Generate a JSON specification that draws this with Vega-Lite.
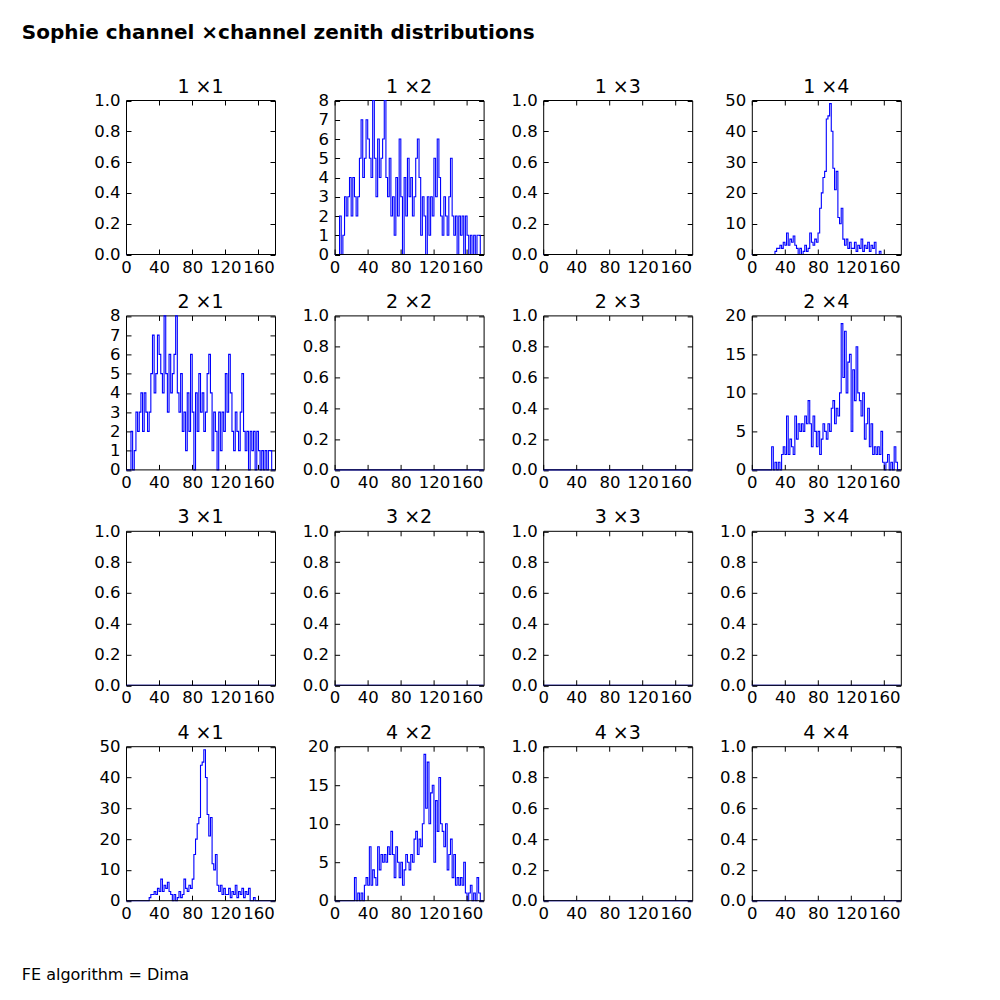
{
"$schema": "https://vega.github.io/schema/vega-lite/v6.json",
"padding": {"left": 21, "top": 22, "right": 20, "bottom": 20},
"datasets": {
"z": [{"x":0,"n":0},{"x":180,"n":0}],
"a": [{"x":0,"n":0},{"x":2,"n":0},{"x":4,"n":0},{"x":6,"n":2},{"x":8,"n":0},{"x":10,"n":1},{"x":12,"n":3},{"x":14,"n":2},{"x":16,"n":3},{"x":18,"n":4},{"x":20,"n":2},{"x":22,"n":4},{"x":24,"n":3},{"x":26,"n":2},{"x":28,"n":3},{"x":30,"n":5},{"x":32,"n":7},{"x":34,"n":4},{"x":36,"n":5},{"x":38,"n":7},{"x":40,"n":6},{"x":42,"n":5},{"x":44,"n":4},{"x":46,"n":8},{"x":48,"n":5},{"x":50,"n":3},{"x":52,"n":6},{"x":54,"n":4},{"x":56,"n":5},{"x":58,"n":6},{"x":60,"n":8},{"x":62,"n":4},{"x":64,"n":3},{"x":66,"n":5},{"x":68,"n":2},{"x":70,"n":3},{"x":72,"n":1},{"x":74,"n":4},{"x":76,"n":2},{"x":78,"n":6},{"x":80,"n":3},{"x":82,"n":0},{"x":84,"n":4},{"x":86,"n":2},{"x":88,"n":5},{"x":90,"n":3},{"x":92,"n":4},{"x":94,"n":2},{"x":96,"n":3},{"x":98,"n":5},{"x":100,"n":6},{"x":102,"n":4},{"x":104,"n":1},{"x":106,"n":3},{"x":108,"n":2},{"x":110,"n":0},{"x":112,"n":3},{"x":114,"n":1},{"x":116,"n":3},{"x":118,"n":2},{"x":120,"n":5},{"x":122,"n":3},{"x":124,"n":6},{"x":126,"n":4},{"x":128,"n":2},{"x":130,"n":1},{"x":132,"n":3},{"x":134,"n":2},{"x":136,"n":1},{"x":138,"n":3},{"x":140,"n":5},{"x":142,"n":2},{"x":144,"n":1},{"x":146,"n":2},{"x":148,"n":0},{"x":150,"n":2},{"x":152,"n":1},{"x":154,"n":2},{"x":156,"n":0},{"x":158,"n":2},{"x":160,"n":1},{"x":162,"n":0},{"x":164,"n":1},{"x":166,"n":0},{"x":168,"n":1},{"x":170,"n":0},{"x":172,"n":1},{"x":174,"n":1},{"x":176,"n":0},{"x":178,"n":0},{"x":180,"n":0}],
"b": [{"x":0,"n":0},{"x":24,"n":0},{"x":26,"n":0},{"x":28,"n":1},{"x":30,"n":2},{"x":32,"n":2},{"x":34,"n":3},{"x":36,"n":2},{"x":38,"n":4},{"x":40,"n":3},{"x":42,"n":7},{"x":44,"n":3},{"x":46,"n":5},{"x":48,"n":4},{"x":50,"n":6},{"x":52,"n":3},{"x":54,"n":2},{"x":56,"n":0},{"x":58,"n":2},{"x":60,"n":0},{"x":62,"n":1},{"x":64,"n":3},{"x":66,"n":1},{"x":68,"n":2},{"x":70,"n":7},{"x":72,"n":4},{"x":74,"n":3},{"x":76,"n":5},{"x":78,"n":4},{"x":80,"n":7},{"x":82,"n":15},{"x":84,"n":20},{"x":86,"n":25},{"x":88,"n":27},{"x":90,"n":44},{"x":92,"n":45},{"x":94,"n":49},{"x":96,"n":40},{"x":98,"n":28},{"x":100,"n":21},{"x":102,"n":27},{"x":104,"n":12},{"x":106,"n":10},{"x":108,"n":15},{"x":110,"n":5},{"x":112,"n":3},{"x":114,"n":5},{"x":116,"n":2},{"x":118,"n":4},{"x":120,"n":2},{"x":122,"n":2},{"x":124,"n":4},{"x":126,"n":1},{"x":128,"n":3},{"x":130,"n":2},{"x":132,"n":5},{"x":134,"n":1},{"x":136,"n":3},{"x":138,"n":2},{"x":140,"n":4},{"x":142,"n":1},{"x":144,"n":3},{"x":146,"n":2},{"x":148,"n":4},{"x":150,"n":0},{"x":152,"n":0},{"x":154,"n":1},{"x":156,"n":0},{"x":180,"n":0}],
"c": [{"x":0,"n":0},{"x":22,"n":0},{"x":24,"n":3},{"x":26,"n":0},{"x":28,"n":1},{"x":30,"n":0},{"x":32,"n":1},{"x":34,"n":0},{"x":36,"n":2},{"x":38,"n":3},{"x":40,"n":2},{"x":42,"n":7},{"x":44,"n":2},{"x":46,"n":4},{"x":48,"n":3},{"x":50,"n":2},{"x":52,"n":7},{"x":54,"n":4},{"x":56,"n":6},{"x":58,"n":5},{"x":60,"n":6},{"x":62,"n":5},{"x":64,"n":7},{"x":66,"n":6},{"x":68,"n":9},{"x":70,"n":6},{"x":72,"n":3},{"x":74,"n":7},{"x":76,"n":5},{"x":78,"n":3},{"x":80,"n":5},{"x":82,"n":2},{"x":84,"n":4},{"x":86,"n":6},{"x":88,"n":5},{"x":90,"n":4},{"x":92,"n":6},{"x":94,"n":5},{"x":96,"n":8},{"x":98,"n":9},{"x":100,"n":6},{"x":102,"n":8},{"x":104,"n":7},{"x":106,"n":10},{"x":108,"n":19},{"x":110,"n":12},{"x":112,"n":18},{"x":114,"n":10},{"x":116,"n":14},{"x":118,"n":15},{"x":120,"n":5},{"x":122,"n":13},{"x":124,"n":9},{"x":126,"n":16},{"x":128,"n":10},{"x":130,"n":9},{"x":132,"n":7},{"x":134,"n":10},{"x":136,"n":4},{"x":138,"n":6},{"x":140,"n":8},{"x":142,"n":3},{"x":144,"n":6},{"x":146,"n":2},{"x":148,"n":3},{"x":150,"n":2},{"x":152,"n":3},{"x":154,"n":2},{"x":156,"n":5},{"x":158,"n":1},{"x":160,"n":0},{"x":162,"n":1},{"x":164,"n":2},{"x":166,"n":0},{"x":168,"n":1},{"x":170,"n":0},{"x":172,"n":3},{"x":174,"n":1},{"x":176,"n":0},{"x":180,"n":0}]
},
"title": {"text": "Sophie channel ×channel zenith distributions", "anchor": "start", "fontSize": 20, "fontWeight": "bold", "offset": 35, "color": "black"},
"vconcat": [{
"columns": 4,
"spacing": {"row": 61.4, "column": 59.6},
"bounds": "flush",
"title": {"text": "FE algorithm = Dima", "orient": "bottom", "anchor": "start", "fontSize": 16, "fontWeight": "normal", "offset": 45, "dx": -72, "color": "black"},
"concat": [
{"title":"1 ×1","width":149,"height":154,"data":{"name":"z"},"layer":[{"mark":{"type":"line","interpolate":"step-after","color":"#0000ff","strokeWidth":1.1},"encoding":{"x":{"field":"x","type":"quantitative","scale":{"domain":[0,180],"nice":false},"axis":{"orient":"bottom","zindex":2,"values":[0,40,80,120,160],"title":null}},"y":{"field":"n","type":"quantitative","scale":{"domain":[0,1],"nice":false,"range":[154.5,0.5]},"axis":{"orient":"left","values":[0,0.2,0.4,0.6,0.8,1],"format":".1f","title":null}}}},{"mark":{"type":"line","opacity":0},"encoding":{"x":{"field":"x","type":"quantitative","axis":{"orient":"top","values":[0,40,80,120,160],"labels":false,"title":null}},"y":{"field":"n","type":"quantitative","axis":{"orient":"right","values":[0,0.2,0.4,0.6,0.8,1],"labels":false,"title":null}}}}],"resolve":{"axis":{"x":"independent","y":"independent"}}},
{"title":"1 ×2","width":149,"height":154,"data":{"name":"a"},"layer":[{"mark":{"type":"line","interpolate":"step-after","color":"#0000ff","strokeWidth":1.1},"encoding":{"x":{"field":"x","type":"quantitative","scale":{"domain":[0,180],"nice":false},"axis":{"orient":"bottom","zindex":2,"values":[0,40,80,120,160],"title":null}},"y":{"field":"n","type":"quantitative","scale":{"domain":[0,8],"nice":false,"range":[154.5,0.5]},"axis":{"orient":"left","values":[0,1,2,3,4,5,6,7,8],"format":"d","title":null}}}},{"mark":{"type":"line","opacity":0},"encoding":{"x":{"field":"x","type":"quantitative","axis":{"orient":"top","values":[0,40,80,120,160],"labels":false,"title":null}},"y":{"field":"n","type":"quantitative","axis":{"orient":"right","values":[0,1,2,3,4,5,6,7,8],"labels":false,"title":null}}}}],"resolve":{"axis":{"x":"independent","y":"independent"}}},
{"title":"1 ×3","width":149,"height":154,"data":{"name":"z"},"layer":[{"mark":{"type":"line","interpolate":"step-after","color":"#0000ff","strokeWidth":1.1},"encoding":{"x":{"field":"x","type":"quantitative","scale":{"domain":[0,180],"nice":false},"axis":{"orient":"bottom","zindex":2,"values":[0,40,80,120,160],"title":null}},"y":{"field":"n","type":"quantitative","scale":{"domain":[0,1],"nice":false,"range":[154.5,0.5]},"axis":{"orient":"left","values":[0,0.2,0.4,0.6,0.8,1],"format":".1f","title":null}}}},{"mark":{"type":"line","opacity":0},"encoding":{"x":{"field":"x","type":"quantitative","axis":{"orient":"top","values":[0,40,80,120,160],"labels":false,"title":null}},"y":{"field":"n","type":"quantitative","axis":{"orient":"right","values":[0,0.2,0.4,0.6,0.8,1],"labels":false,"title":null}}}}],"resolve":{"axis":{"x":"independent","y":"independent"}}},
{"title":"1 ×4","width":149,"height":154,"data":{"name":"b"},"layer":[{"mark":{"type":"line","interpolate":"step-after","color":"#0000ff","strokeWidth":1.1},"encoding":{"x":{"field":"x","type":"quantitative","scale":{"domain":[0,180],"nice":false},"axis":{"orient":"bottom","zindex":2,"values":[0,40,80,120,160],"title":null}},"y":{"field":"n","type":"quantitative","scale":{"domain":[0,50],"nice":false,"range":[154.5,0.5]},"axis":{"orient":"left","values":[0,10,20,30,40,50],"format":"d","title":null}}}},{"mark":{"type":"line","opacity":0},"encoding":{"x":{"field":"x","type":"quantitative","axis":{"orient":"top","values":[0,40,80,120,160],"labels":false,"title":null}},"y":{"field":"n","type":"quantitative","axis":{"orient":"right","values":[0,10,20,30,40,50],"labels":false,"title":null}}}}],"resolve":{"axis":{"x":"independent","y":"independent"}}},
{"title":"2 ×1","width":149,"height":154,"data":{"name":"a"},"layer":[{"mark":{"type":"line","interpolate":"step-after","color":"#0000ff","strokeWidth":1.1},"encoding":{"x":{"field":"x","type":"quantitative","scale":{"domain":[0,180],"nice":false},"axis":{"orient":"bottom","zindex":2,"values":[0,40,80,120,160],"title":null}},"y":{"field":"n","type":"quantitative","scale":{"domain":[0,8],"nice":false,"range":[154.5,0.5]},"axis":{"orient":"left","values":[0,1,2,3,4,5,6,7,8],"format":"d","title":null}}}},{"mark":{"type":"line","opacity":0},"encoding":{"x":{"field":"x","type":"quantitative","axis":{"orient":"top","values":[0,40,80,120,160],"labels":false,"title":null}},"y":{"field":"n","type":"quantitative","axis":{"orient":"right","values":[0,1,2,3,4,5,6,7,8],"labels":false,"title":null}}}}],"resolve":{"axis":{"x":"independent","y":"independent"}}},
{"title":"2 ×2","width":149,"height":154,"data":{"name":"z"},"layer":[{"mark":{"type":"line","interpolate":"step-after","color":"#0000ff","strokeWidth":1.1},"encoding":{"x":{"field":"x","type":"quantitative","scale":{"domain":[0,180],"nice":false},"axis":{"orient":"bottom","zindex":2,"values":[0,40,80,120,160],"title":null}},"y":{"field":"n","type":"quantitative","scale":{"domain":[0,1],"nice":false,"range":[154.5,0.5]},"axis":{"orient":"left","values":[0,0.2,0.4,0.6,0.8,1],"format":".1f","title":null}}}},{"mark":{"type":"line","opacity":0},"encoding":{"x":{"field":"x","type":"quantitative","axis":{"orient":"top","values":[0,40,80,120,160],"labels":false,"title":null}},"y":{"field":"n","type":"quantitative","axis":{"orient":"right","values":[0,0.2,0.4,0.6,0.8,1],"labels":false,"title":null}}}}],"resolve":{"axis":{"x":"independent","y":"independent"}}},
{"title":"2 ×3","width":149,"height":154,"data":{"name":"z"},"layer":[{"mark":{"type":"line","interpolate":"step-after","color":"#0000ff","strokeWidth":1.1},"encoding":{"x":{"field":"x","type":"quantitative","scale":{"domain":[0,180],"nice":false},"axis":{"orient":"bottom","zindex":2,"values":[0,40,80,120,160],"title":null}},"y":{"field":"n","type":"quantitative","scale":{"domain":[0,1],"nice":false,"range":[154.5,0.5]},"axis":{"orient":"left","values":[0,0.2,0.4,0.6,0.8,1],"format":".1f","title":null}}}},{"mark":{"type":"line","opacity":0},"encoding":{"x":{"field":"x","type":"quantitative","axis":{"orient":"top","values":[0,40,80,120,160],"labels":false,"title":null}},"y":{"field":"n","type":"quantitative","axis":{"orient":"right","values":[0,0.2,0.4,0.6,0.8,1],"labels":false,"title":null}}}}],"resolve":{"axis":{"x":"independent","y":"independent"}}},
{"title":"2 ×4","width":149,"height":154,"data":{"name":"c"},"layer":[{"mark":{"type":"line","interpolate":"step-after","color":"#0000ff","strokeWidth":1.1},"encoding":{"x":{"field":"x","type":"quantitative","scale":{"domain":[0,180],"nice":false},"axis":{"orient":"bottom","zindex":2,"values":[0,40,80,120,160],"title":null}},"y":{"field":"n","type":"quantitative","scale":{"domain":[0,20],"nice":false,"range":[154.5,0.5]},"axis":{"orient":"left","values":[0,5,10,15,20],"format":"d","title":null}}}},{"mark":{"type":"line","opacity":0},"encoding":{"x":{"field":"x","type":"quantitative","axis":{"orient":"top","values":[0,40,80,120,160],"labels":false,"title":null}},"y":{"field":"n","type":"quantitative","axis":{"orient":"right","values":[0,5,10,15,20],"labels":false,"title":null}}}}],"resolve":{"axis":{"x":"independent","y":"independent"}}},
{"title":"3 ×1","width":149,"height":154,"data":{"name":"z"},"layer":[{"mark":{"type":"line","interpolate":"step-after","color":"#0000ff","strokeWidth":1.1},"encoding":{"x":{"field":"x","type":"quantitative","scale":{"domain":[0,180],"nice":false},"axis":{"orient":"bottom","zindex":2,"values":[0,40,80,120,160],"title":null}},"y":{"field":"n","type":"quantitative","scale":{"domain":[0,1],"nice":false,"range":[154.5,0.5]},"axis":{"orient":"left","values":[0,0.2,0.4,0.6,0.8,1],"format":".1f","title":null}}}},{"mark":{"type":"line","opacity":0},"encoding":{"x":{"field":"x","type":"quantitative","axis":{"orient":"top","values":[0,40,80,120,160],"labels":false,"title":null}},"y":{"field":"n","type":"quantitative","axis":{"orient":"right","values":[0,0.2,0.4,0.6,0.8,1],"labels":false,"title":null}}}}],"resolve":{"axis":{"x":"independent","y":"independent"}}},
{"title":"3 ×2","width":149,"height":154,"data":{"name":"z"},"layer":[{"mark":{"type":"line","interpolate":"step-after","color":"#0000ff","strokeWidth":1.1},"encoding":{"x":{"field":"x","type":"quantitative","scale":{"domain":[0,180],"nice":false},"axis":{"orient":"bottom","zindex":2,"values":[0,40,80,120,160],"title":null}},"y":{"field":"n","type":"quantitative","scale":{"domain":[0,1],"nice":false,"range":[154.5,0.5]},"axis":{"orient":"left","values":[0,0.2,0.4,0.6,0.8,1],"format":".1f","title":null}}}},{"mark":{"type":"line","opacity":0},"encoding":{"x":{"field":"x","type":"quantitative","axis":{"orient":"top","values":[0,40,80,120,160],"labels":false,"title":null}},"y":{"field":"n","type":"quantitative","axis":{"orient":"right","values":[0,0.2,0.4,0.6,0.8,1],"labels":false,"title":null}}}}],"resolve":{"axis":{"x":"independent","y":"independent"}}},
{"title":"3 ×3","width":149,"height":154,"data":{"name":"z"},"layer":[{"mark":{"type":"line","interpolate":"step-after","color":"#0000ff","strokeWidth":1.1},"encoding":{"x":{"field":"x","type":"quantitative","scale":{"domain":[0,180],"nice":false},"axis":{"orient":"bottom","zindex":2,"values":[0,40,80,120,160],"title":null}},"y":{"field":"n","type":"quantitative","scale":{"domain":[0,1],"nice":false,"range":[154.5,0.5]},"axis":{"orient":"left","values":[0,0.2,0.4,0.6,0.8,1],"format":".1f","title":null}}}},{"mark":{"type":"line","opacity":0},"encoding":{"x":{"field":"x","type":"quantitative","axis":{"orient":"top","values":[0,40,80,120,160],"labels":false,"title":null}},"y":{"field":"n","type":"quantitative","axis":{"orient":"right","values":[0,0.2,0.4,0.6,0.8,1],"labels":false,"title":null}}}}],"resolve":{"axis":{"x":"independent","y":"independent"}}},
{"title":"3 ×4","width":149,"height":154,"data":{"name":"z"},"layer":[{"mark":{"type":"line","interpolate":"step-after","color":"#0000ff","strokeWidth":1.1},"encoding":{"x":{"field":"x","type":"quantitative","scale":{"domain":[0,180],"nice":false},"axis":{"orient":"bottom","zindex":2,"values":[0,40,80,120,160],"title":null}},"y":{"field":"n","type":"quantitative","scale":{"domain":[0,1],"nice":false,"range":[154.5,0.5]},"axis":{"orient":"left","values":[0,0.2,0.4,0.6,0.8,1],"format":".1f","title":null}}}},{"mark":{"type":"line","opacity":0},"encoding":{"x":{"field":"x","type":"quantitative","axis":{"orient":"top","values":[0,40,80,120,160],"labels":false,"title":null}},"y":{"field":"n","type":"quantitative","axis":{"orient":"right","values":[0,0.2,0.4,0.6,0.8,1],"labels":false,"title":null}}}}],"resolve":{"axis":{"x":"independent","y":"independent"}}},
{"title":"4 ×1","width":149,"height":154,"data":{"name":"b"},"layer":[{"mark":{"type":"line","interpolate":"step-after","color":"#0000ff","strokeWidth":1.1},"encoding":{"x":{"field":"x","type":"quantitative","scale":{"domain":[0,180],"nice":false},"axis":{"orient":"bottom","zindex":2,"values":[0,40,80,120,160],"title":null}},"y":{"field":"n","type":"quantitative","scale":{"domain":[0,50],"nice":false,"range":[154.5,0.5]},"axis":{"orient":"left","values":[0,10,20,30,40,50],"format":"d","title":null}}}},{"mark":{"type":"line","opacity":0},"encoding":{"x":{"field":"x","type":"quantitative","axis":{"orient":"top","values":[0,40,80,120,160],"labels":false,"title":null}},"y":{"field":"n","type":"quantitative","axis":{"orient":"right","values":[0,10,20,30,40,50],"labels":false,"title":null}}}}],"resolve":{"axis":{"x":"independent","y":"independent"}}},
{"title":"4 ×2","width":149,"height":154,"data":{"name":"c"},"layer":[{"mark":{"type":"line","interpolate":"step-after","color":"#0000ff","strokeWidth":1.1},"encoding":{"x":{"field":"x","type":"quantitative","scale":{"domain":[0,180],"nice":false},"axis":{"orient":"bottom","zindex":2,"values":[0,40,80,120,160],"title":null}},"y":{"field":"n","type":"quantitative","scale":{"domain":[0,20],"nice":false,"range":[154.5,0.5]},"axis":{"orient":"left","values":[0,5,10,15,20],"format":"d","title":null}}}},{"mark":{"type":"line","opacity":0},"encoding":{"x":{"field":"x","type":"quantitative","axis":{"orient":"top","values":[0,40,80,120,160],"labels":false,"title":null}},"y":{"field":"n","type":"quantitative","axis":{"orient":"right","values":[0,5,10,15,20],"labels":false,"title":null}}}}],"resolve":{"axis":{"x":"independent","y":"independent"}}},
{"title":"4 ×3","width":149,"height":154,"data":{"name":"z"},"layer":[{"mark":{"type":"line","interpolate":"step-after","color":"#0000ff","strokeWidth":1.1},"encoding":{"x":{"field":"x","type":"quantitative","scale":{"domain":[0,180],"nice":false},"axis":{"orient":"bottom","zindex":2,"values":[0,40,80,120,160],"title":null}},"y":{"field":"n","type":"quantitative","scale":{"domain":[0,1],"nice":false,"range":[154.5,0.5]},"axis":{"orient":"left","values":[0,0.2,0.4,0.6,0.8,1],"format":".1f","title":null}}}},{"mark":{"type":"line","opacity":0},"encoding":{"x":{"field":"x","type":"quantitative","axis":{"orient":"top","values":[0,40,80,120,160],"labels":false,"title":null}},"y":{"field":"n","type":"quantitative","axis":{"orient":"right","values":[0,0.2,0.4,0.6,0.8,1],"labels":false,"title":null}}}}],"resolve":{"axis":{"x":"independent","y":"independent"}}},
{"title":"4 ×4","width":149,"height":154,"data":{"name":"z"},"layer":[{"mark":{"type":"line","interpolate":"step-after","color":"#0000ff","strokeWidth":1.1},"encoding":{"x":{"field":"x","type":"quantitative","scale":{"domain":[0,180],"nice":false},"axis":{"orient":"bottom","zindex":2,"values":[0,40,80,120,160],"title":null}},"y":{"field":"n","type":"quantitative","scale":{"domain":[0,1],"nice":false,"range":[154.5,0.5]},"axis":{"orient":"left","values":[0,0.2,0.4,0.6,0.8,1],"format":".1f","title":null}}}},{"mark":{"type":"line","opacity":0},"encoding":{"x":{"field":"x","type":"quantitative","axis":{"orient":"top","values":[0,40,80,120,160],"labels":false,"title":null}},"y":{"field":"n","type":"quantitative","axis":{"orient":"right","values":[0,0.2,0.4,0.6,0.8,1],"labels":false,"title":null}}}}],"resolve":{"axis":{"x":"independent","y":"independent"}}}
]
}],
"config": {
"font": "DejaVu Sans",
"background": "white",
"view": {"stroke": null},
"title": {"fontSize": 19, "fontWeight": "normal", "offset": -4, "color": "black"},
"axis": {"domainColor": "black", "domainWidth": 1, "tickColor": "black", "tickSize": -5, "tickWidth": 1, "labelColor": "black", "labelFontSize": 16.5, "labelFont": "DejaVu Sans", "grid": false, "zindex": 1, "labelFlush": false, "labelOverlap": false, "labelBound": false},
"axisX": {"labelPadding": 10},
"axisY": {"labelPadding": 11}
}
}
